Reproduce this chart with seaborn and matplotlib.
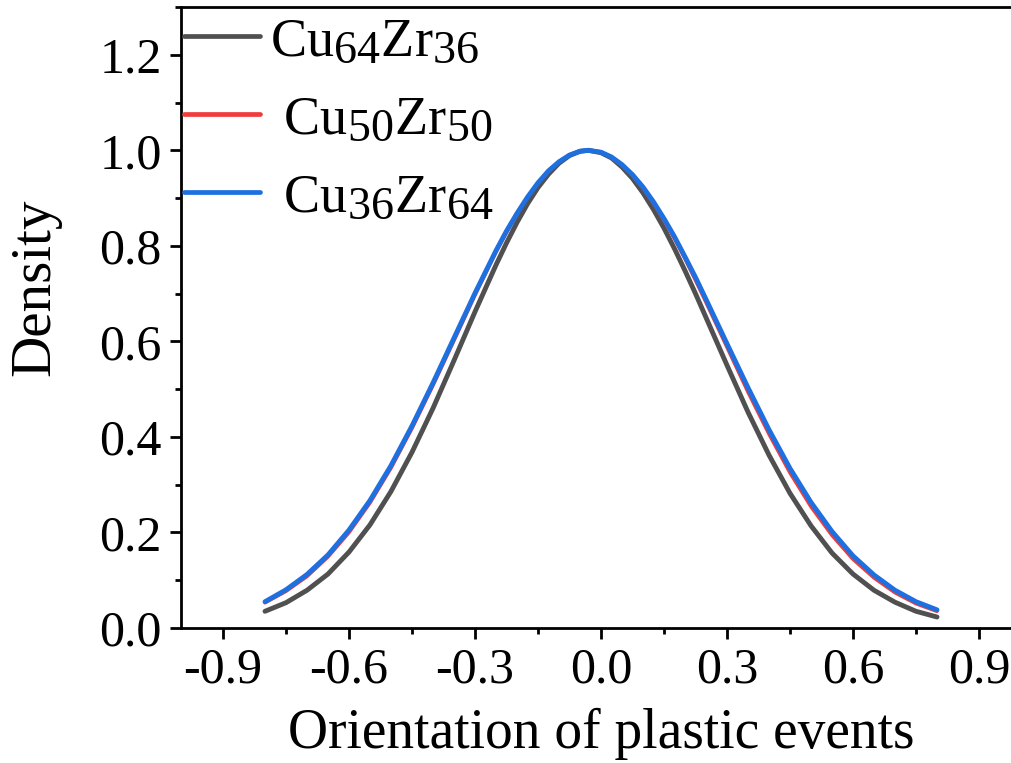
import matplotlib
matplotlib.use("Agg")
import matplotlib.pyplot as plt
import matplotlib._mathtext as mathtext_impl
import numpy as np
import pandas as pd
import seaborn as sns
from matplotlib.ticker import MultipleLocator, FormatStrFormatter

# Orientation grid and normalised densities for the three alloys
orientation = [-0.80, -0.75, -0.70, -0.65, -0.60, -0.55, -0.50, -0.45, -0.40,
               -0.35, -0.30, -0.25, -0.225, -0.20, -0.175, -0.15, -0.125, -0.10,
               -0.075, -0.05, -0.03, 0.00, 0.025, 0.05, 0.075, 0.10, 0.125, 0.15,
               0.175, 0.20, 0.225, 0.25, 0.30, 0.35, 0.40, 0.45, 0.50, 0.55,
               0.60, 0.65, 0.70, 0.75, 0.80]

density_cu64zr36 = [0.035, 0.053, 0.079, 0.113, 0.159, 0.216, 0.286, 0.368, 0.460,
                    0.560, 0.662, 0.760, 0.806, 0.849, 0.888, 0.922, 0.950, 0.973,
                    0.989, 0.998, 1.000, 0.995, 0.984, 0.965, 0.941, 0.911, 0.876,
                    0.837, 0.794, 0.748, 0.700, 0.650, 0.550, 0.452, 0.362, 0.282,
                    0.214, 0.157, 0.113, 0.079, 0.054, 0.035, 0.023]

density_cu50zr50 = [0.053, 0.077, 0.108, 0.149, 0.200, 0.262, 0.335, 0.418, 0.508,
                    0.602, 0.697, 0.787, 0.828, 0.867, 0.901, 0.931, 0.956, 0.976,
                    0.990, 0.998, 1.000, 0.996, 0.985, 0.969, 0.948, 0.921, 0.889,
                    0.854, 0.815, 0.773, 0.728, 0.682, 0.588, 0.494, 0.406, 0.325,
                    0.254, 0.194, 0.144, 0.105, 0.074, 0.051, 0.035]

density_cu36zr64 = [0.055, 0.080, 0.112, 0.153, 0.205, 0.267, 0.340, 0.423, 0.513,
                    0.607, 0.701, 0.790, 0.831, 0.868, 0.902, 0.932, 0.957, 0.976,
                    0.990, 0.998, 1.000, 0.996, 0.986, 0.970, 0.949, 0.923, 0.892,
                    0.857, 0.819, 0.777, 0.734, 0.688, 0.595, 0.503, 0.415, 0.334,
                    0.263, 0.202, 0.151, 0.111, 0.079, 0.055, 0.038]

alloys = ["Cu64Zr36", "Cu50Zr50", "Cu36Zr64"]
legend_labels = [r"Cu$_{\mathrm{64}}$Zr$_{\mathrm{36}}$",
                 r" Cu$_{\mathrm{50}}$Zr$_{\mathrm{50}}$",
                 r" Cu$_{\mathrm{36}}$Zr$_{\mathrm{64}}$"]
colors = ["#505050", "#f03c3c", "#1e6fe0"]
widths = [3.5, 2.6, 3.5]

x_ticks = [-0.9, -0.6, -0.3, 0.0, 0.3, 0.6, 0.9]

df = pd.DataFrame({
    "orientation": orientation * 3,
    "density": density_cu64zr36 + density_cu50zr50 + density_cu36zr64,
    "alloy": np.repeat(alloys, len(orientation)),
})

# larger subscripts for the alloy compositions
mathtext_impl.SHRINK_FACTOR = 0.85

sns.set_style("ticks")
plt.rcParams.update({
    "font.family": ["Liberation Serif", "DejaVu Serif"],
    "mathtext.fontset": "custom",
    "mathtext.rm": "Liberation Serif",
    "mathtext.it": "Liberation Serif:italic",
    "mathtext.bf": "Liberation Serif:bold",
    "axes.unicode_minus": False,
    "text.color": "black",
    "axes.labelcolor": "black",
    "xtick.color": "black",
    "ytick.color": "black",
    "axes.edgecolor": "black",
})

fig = plt.figure(figsize=(10.12, 7.63), dpi=100)
ax = fig.add_axes([181 / 1012, 135 / 763, 840 / 1012, 621 / 763])

for alloy, lab, col, lw in zip(alloys, legend_labels, colors, widths):
    sub = df[df["alloy"] == alloy]
    sns.lineplot(data=sub, x="orientation", y="density", color=col, linewidth=lw,
                 label=lab, ax=ax, sort=False, estimator=None,
                 solid_capstyle="round", solid_joinstyle="round")

ax.set_xlim(-1.0, 1.0)
ax.set_ylim(0, 1.3)
ax.set_xticks(x_ticks)
ax.xaxis.set_minor_locator(MultipleLocator(0.15))
ax.yaxis.set_major_locator(MultipleLocator(0.2))
ax.yaxis.set_minor_locator(MultipleLocator(0.1))
ax.xaxis.set_major_formatter(FormatStrFormatter("%.1f"))
ax.yaxis.set_major_formatter(FormatStrFormatter("%.1f"))

ax.set_xlabel("Orientation of plastic events", fontsize=40, labelpad=10)
ax.set_ylabel("Density", fontsize=41)
ax.yaxis.set_label_coords(-0.142, 0.548)

for sp in ax.spines.values():
    sp.set_linewidth(2.0)
    sp.set_color("black")

ax.tick_params(which="major", direction="out", length=8, width=2,
               labelsize=36, pad=6, top=False, right=False)
ax.tick_params(which="minor", direction="out", length=4.5, width=2,
               top=False, right=False)

leg = ax.legend(loc="upper left", bbox_to_anchor=(0.0, 0.989), frameon=False,
                fontsize=39, handlelength=1.4, handletextpad=0.2,
                labelspacing=0.51, borderaxespad=0.0, borderpad=0.05)
for line in leg.get_lines():
    line.set_solid_capstyle("round")
    line.set_linewidth(3.4)

fig.savefig("out.png", dpi=100)
